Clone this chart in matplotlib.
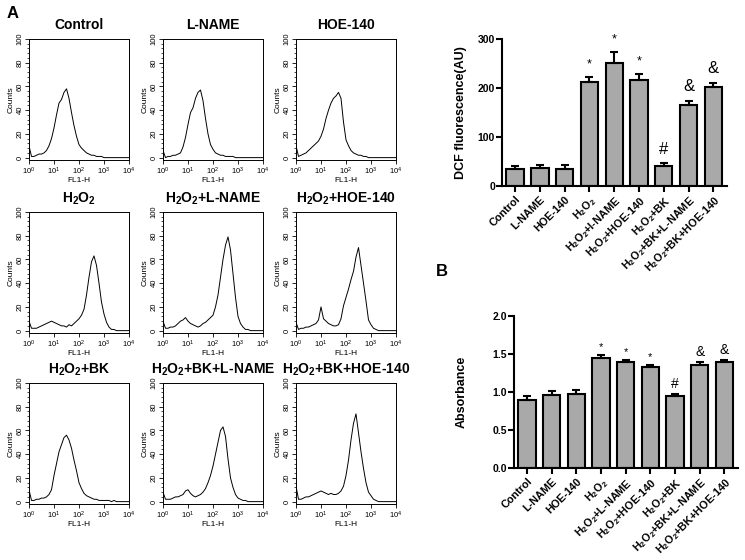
import numpy as np
import matplotlib.pyplot as plt
from matplotlib.ticker import MultipleLocator, LogLocator, NullFormatter

plt.rcParams['font.family'] = ['Liberation Sans', 'DejaVu Sans']
plt.rcParams['mathtext.fontset'] = 'custom'
plt.rcParams['mathtext.rm'] = 'Liberation Sans'
plt.rcParams['mathtext.bf'] = 'Liberation Sans:bold'
plt.rcParams['mathtext.it'] = 'Liberation Sans:italic'
plt.rcParams['mathtext.default'] = 'bf'

H2O2 = "H$_2$O$_2$"

# flow cytometry histograms, counts read at log10(FL1-H) = 0.0, 0.1, ... 4.0
fl1_log = np.round(np.arange(0, 4.01, 0.1), 1)

counts_control = [10, 1, 1, 2, 3, 3, 4, 6, 10, 16, 25, 36, 46, 49, 55, 58, 50, 38, 27, 18,
                  11, 8, 6, 4, 3, 2, 2, 1, 1, 1, 0, 0, 0, 0, 0, 0, 0, 0, 0, 0, 0]
counts_lname = [6, 0, 1, 1, 2, 2, 3, 4, 9, 17, 28, 38, 42, 50, 55, 57, 48, 33, 20, 11,
                7, 4, 3, 2, 2, 1, 1, 1, 1, 0, 0, 0, 0, 0, 0, 0, 0, 0, 0, 0, 0]
counts_hoe = [10, 1, 2, 3, 4, 6, 8, 10, 12, 14, 18, 24, 33, 40, 46, 50, 52, 55, 50, 30,
              15, 10, 6, 4, 3, 2, 2, 1, 1, 0, 0, 0, 0, 0, 0, 0, 0, 0, 0, 0, 0]
counts_h2o2 = [8, 2, 2, 2, 3, 4, 5, 6, 7, 8, 7, 6, 5, 4, 4, 3, 5, 4, 6, 8,
               10, 13, 18, 30, 45, 58, 63, 55, 40, 24, 14, 7, 3, 1, 1, 0, 0, 0, 0, 0, 0]
counts_h2o2_lname = [8, 2, 2, 3, 3, 4, 6, 8, 9, 11, 8, 6, 5, 4, 3, 4, 6, 7, 9, 11,
                     13, 20, 30, 45, 60, 72, 79, 68, 48, 28, 12, 6, 3, 1, 1, 0, 0, 0, 0, 0, 0]
counts_h2o2_hoe = [7, 1, 2, 2, 3, 3, 4, 5, 6, 9, 20, 10, 8, 6, 5, 4, 4, 5, 10, 21,
                   28, 35, 43, 50, 62, 70, 55, 40, 25, 9, 5, 2, 1, 0, 0, 0, 0, 0, 0, 0, 0]
counts_h2o2_bk = [10, 1, 1, 2, 2, 3, 3, 4, 6, 10, 22, 32, 42, 48, 54, 56, 52, 45, 35, 26,
                  16, 11, 7, 5, 4, 3, 2, 2, 1, 1, 1, 1, 1, 0, 1, 0, 0, 0, 0, 0, 0]
counts_h2o2_bk_lname = [8, 2, 2, 2, 3, 4, 4, 5, 6, 9, 10, 7, 5, 4, 5, 6, 8, 11, 16, 22,
                        30, 40, 50, 60, 63, 55, 36, 20, 12, 6, 3, 2, 1, 1, 0, 0, 0, 0, 0, 0, 0]
counts_h2o2_bk_hoe = [13, 2, 2, 3, 4, 4, 5, 6, 7, 8, 9, 8, 7, 6, 7, 6, 6, 7, 9, 13,
                      22, 35, 52, 66, 74, 58, 42, 28, 16, 8, 5, 2, 1, 0, 0, 0, 0, 0, 0, 0, 0]

hist_titles = ["Control", "L-NAME", "HOE-140",
               H2O2, H2O2 + "+L-NAME", H2O2 + "+HOE-140",
               H2O2 + "+BK", H2O2 + "+BK+L-NAME", H2O2 + "+BK+HOE-140"]
hist_counts = [counts_control, counts_lname, counts_hoe,
               counts_h2o2, counts_h2o2_lname, counts_h2o2_hoe,
               counts_h2o2_bk, counts_h2o2_bk_lname, counts_h2o2_bk_hoe]

# DCF fluorescence bar chart
groups_dcf = ["Control", "L-NAME", "HOE-140", H2O2, H2O2 + "+l-NAME", H2O2 + "+HOE-140",
              H2O2 + "+BK", H2O2 + "+BK+L-NAME", H2O2 + "+BK+HOE-140"]
dcf_mean = [35, 36, 35, 212, 250, 217, 41, 166, 202]
dcf_err = [6, 6, 7, 10, 23, 11, 5, 7, 9]
dcf_marks = ["", "", "", "*", "*", "*", "#", "&", "&"]

# absorbance bar chart
groups_abs = ["Control", "L-NAME", "HOE-140", H2O2, H2O2 + "+L-NAME", H2O2 + "+HOE-140",
              H2O2 + "+BK", H2O2 + "+BK+L-NAME", H2O2 + "+BK+HOE-140"]
abs_mean = [0.89, 0.96, 0.98, 1.45, 1.39, 1.33, 0.95, 1.35, 1.39]
abs_err = [0.06, 0.05, 0.04, 0.04, 0.03, 0.03, 0.03, 0.05, 0.03]
abs_marks = ["", "", "", "*", "*", "*", "#", "&", "&"]

W, H = 745, 560
fig = plt.figure(figsize=(W / 100, H / 100), dpi=100)


def px_axes(left, top, right, bottom):
    return fig.add_axes([left / W, 1 - bottom / H, (right - left) / W, (bottom - top) / H])


col_left = [29, 163, 296]
row_top = [39, 212, 383]
hw, hh = 100, 121

for i, (title, counts) in enumerate(zip(hist_titles, hist_counts)):
    r, c = divmod(i, 3)
    ax = px_axes(col_left[c], row_top[r], col_left[c] + hw, row_top[r] + hh)
    ax.plot(10 ** fl1_log, counts, color='black', lw=0.7)
    ax.set_xscale('log')
    ax.set_xlim(1, 1e4)
    ax.set_ylim(-2, 100)
    ax.set_xticks([1, 10, 100, 1000, 10000])
    ax.set_xticklabels([r"$\mathrm{10^{%d}}$" % k for k in range(5)])
    ax.xaxis.set_minor_locator(LogLocator(base=10, subs=np.arange(2, 10)))
    ax.xaxis.set_minor_formatter(NullFormatter())
    ax.yaxis.set_major_locator(MultipleLocator(20))
    ax.yaxis.set_minor_locator(MultipleLocator(4))
    ax.tick_params(which='major', labelsize=5.5, length=3, width=0.6, pad=1)
    ax.tick_params(which='minor', length=1.8, width=0.5)
    ax.tick_params(axis='y', labelrotation=90)
    for lab in ax.get_yticklabels():
        lab.set_va('center')
    for sp in ax.spines.values():
        sp.set_linewidth(0.7)
    ax.set_ylabel("Counts", fontsize=6, labelpad=1)
    ax.set_xlabel("FL1-H", fontsize=6, labelpad=0)
    ax.set_title(title, fontsize=10, fontweight='bold', pad=7)


def bar_panel(ax, groups, means, errs, marks, top, step, ylabel, fmt, mark_size, mark_pad):
    x = np.arange(len(groups))
    ax.bar(x, means, width=0.7, color='#a9a9a9', edgecolor='black', lw=1.5, zorder=2)
    ax.errorbar(x, means, yerr=[np.zeros(len(errs)), errs], fmt='none', ecolor='black',
                elinewidth=1.5, capsize=3, capthick=1.5, zorder=3)
    for xi, m, e, mk in zip(x, means, errs, marks):
        if mk:
            fs = mark_size[0] if mk == "*" else mark_size[1]
            ax.annotate(mk, (xi, m + e), xytext=(0, mark_pad), textcoords='offset points',
                        ha='center', va='bottom', fontsize=fs, fontweight='normal',
                        annotation_clip=False)
    ax.set_ylim(0, top)
    ax.set_xlim(-0.53, len(groups) - 0.45)
    ax.yaxis.set_major_locator(MultipleLocator(step))
    ax.yaxis.set_major_formatter(fmt)
    ax.set_xticks(x)
    ax.set_xticklabels(groups, rotation=45, ha='right', rotation_mode='anchor',
                       fontsize=7.8, fontweight='bold')
    for lab in ax.get_yticklabels():
        lab.set_fontweight('bold')
    ax.tick_params(axis='y', labelsize=7.5, length=4, width=1.5, pad=1)
    ax.tick_params(axis='x', length=4, width=1.5, pad=2)
    ax.spines['top'].set_visible(False)
    ax.spines['right'].set_visible(False)
    ax.spines['left'].set_linewidth(1.5)
    ax.spines['bottom'].set_linewidth(1.5)
    ax.set_ylabel(ylabel, fontsize=9, fontweight='bold')


ax_a = px_axes(502, 39, 727, 186)
bar_panel(ax_a, groups_dcf, dcf_mean, dcf_err, dcf_marks, 300, 100,
          "DCF fluorescence(AU)", "{x:.0f}", (9, 12), 5)
ax_a.yaxis.set_label_coords(-0.155, 0.5)

ax_b = px_axes(514, 316, 738, 468)
bar_panel(ax_b, groups_abs, abs_mean, abs_err, abs_marks, 2.0, 0.5,
          "Absorbance", "{x:.1f}", (8, 10), 2)
ax_b.yaxis.set_label_coords(-0.205, 0.5)

fig.text(7 / W, 1 - 13 / H, "A", fontsize=12, fontweight='bold', va='center')
fig.text(436 / W, 1 - 272 / H, "B", fontsize=12, fontweight='bold', va='center')

fig.savefig("out.png", dpi=100)
